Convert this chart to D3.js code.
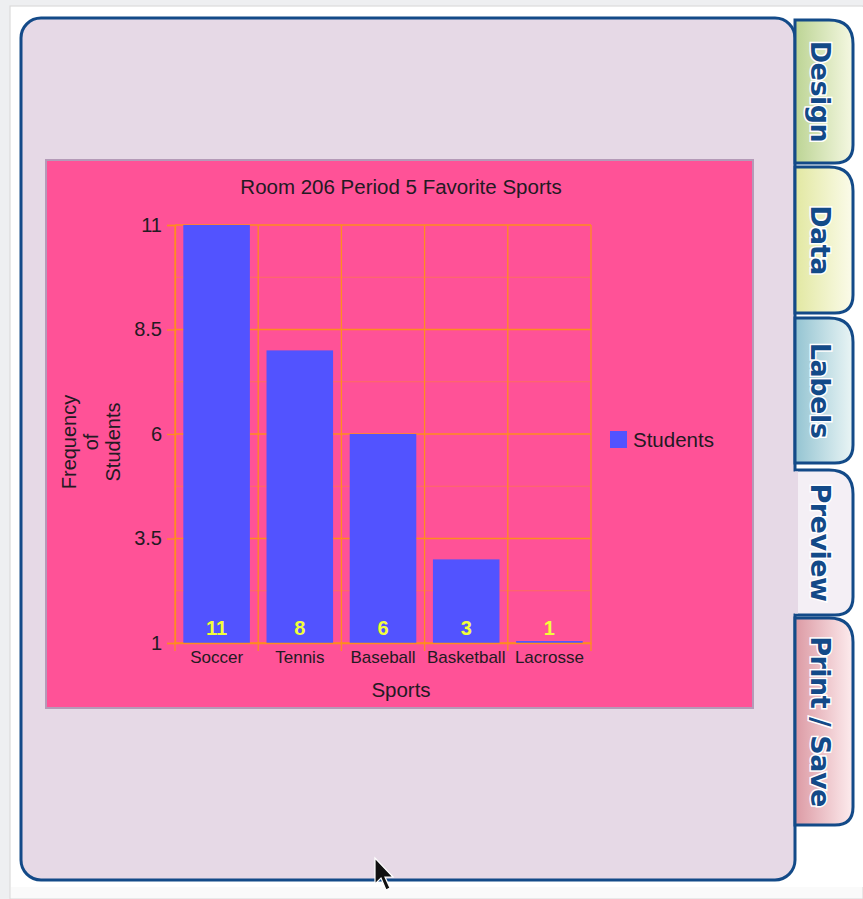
<!DOCTYPE html>
<html>
<head>
<meta charset="utf-8">
<script src="https://cdn.jsdelivr.net/npm/d3@7"></script>
<style>
  html, body { margin: 0; padding: 0; background: #eeeff1; }
  svg { display: block; }
</style>
</head>
<body>
<svg id="chart" width="863" height="899"></svg>
<script>
// chart data
const categories = ["Soccer", "Tennis", "Baseball", "Basketball", "Lacrosse"];
const students = [11, 8, 6, 3, 1];
const yTicks = [1, 3.5, 6, 8.5, 11];
const chartTitle = "Room 206 Period 5 Favorite Sports";
const xTitle = "Sports";
const yTitle = ["Frequency", "of", "Students"];
const seriesName = "Students";
const tabNames = ["Design", "Data", "Labels", "Preview", "Print / Save"];

// tab look (layout only)
const tabTops = [20, 167, 318, 470, 618];
const tabBottoms = [163, 313, 463, 615, 825];
const tabColors = [["#bcd494", "#f5f8e2"], ["#e2e8a2", "#fbfbea"], ["#94c4d2", "#eaf5f5"], ["#e9dfeb", "#fbf8fb"], ["#dc9aa4", "#fdecee"]];
const activeTab = 3;

const blue = "#134a88";
const orange = "#ff8c1e";

let svg = d3.select("#chart");
let defs = svg.append("defs");

// page
svg.append("rect").attr("x", 10).attr("y", 6).attr("width", 853).attr("height", 893)
    .attr("fill", "#fafafa").attr("stroke", "#d8d8d8");
svg.append("rect").attr("x", 11).attr("y", 7).attr("width", 852).attr("height", 880).attr("fill", "#fff");

// main panel
svg.append("rect").attr("x", 21).attr("y", 18).attr("width", 774).attr("height", 862)
    .attr("rx", 20).attr("fill", "#e6d9e6").attr("stroke", blue).attr("stroke-width", 3);

// tabs
const tabPath = (top, bot, open) => {
    let l = 795, r = 853, rt = 24, rb = 18;
    let p = d3.path();
    p.moveTo(l, top);
    p.lineTo(r - rt, top);
    p.quadraticCurveTo(r, top, r, top + rt);
    p.lineTo(r, bot - rb);
    p.quadraticCurveTo(r, bot, r - rb, bot);
    p.lineTo(l, bot);
    if (!open) p.closePath();
    return p.toString();
};

tabNames.forEach((name, i) => {
    let grad = defs.append("linearGradient").attr("id", "tab" + i)
        .attr("x1", "0%").attr("x2", "100%").attr("y1", "0%").attr("y2", "0%");
    grad.append("stop").attr("offset", "0%").attr("stop-color", tabColors[i][0]);
    grad.append("stop").attr("offset", "100%").attr("stop-color", tabColors[i][1]);

    let active = i === activeTab;
    svg.append("path")
        .attr("d", tabPath(tabTops[i], tabBottoms[i], active))
        .attr("fill", active ? "#f4eff5" : `url(#tab${i})`)
        .attr("stroke", blue).attr("stroke-width", 3);
    if (active) {
        // the active tab joins the panel: hide the panel border there
        svg.append("rect").attr("x", 789).attr("y", tabTops[i] + 1.5)
            .attr("width", 9).attr("height", tabBottoms[i] - tabTops[i] - 3).attr("fill", "#e6d9e6");
    }

    let cy = (tabTops[i] + tabBottoms[i]) / 2;
    svg.append("text")
        .attr("transform", `translate(820,${cy}) rotate(90)`)
        .attr("text-anchor", "middle")
        .attr("dominant-baseline", "central")
        .attr("font-family", "DejaVu Sans, sans-serif")
        .attr("font-weight", "bold")
        .attr("font-size", 27)
        .attr("letter-spacing", -0.5)
        .attr("fill", blue)
        .attr("stroke", "#fff").attr("stroke-width", 3).attr("paint-order", "stroke")
        .text(name);
});

// chart box
let box = {x: 46, y: 160, w: 707, h: 548};
svg.append("rect").attr("x", box.x).attr("y", box.y).attr("width", box.w).attr("height", box.h)
    .attr("fill", "#ff5297").attr("stroke", "#b59ab8").attr("stroke-width", 2);

let plot = {left: 175, right: 591, top: 225, bottom: 643};

let x = d3.scaleBand().domain(categories).range([plot.left, plot.right])
    .paddingInner(0.2).paddingOuter(0.1);
let y = d3.scaleLinear().domain([d3.min(yTicks), d3.max(yTicks)]).range([plot.bottom, plot.top]);

let g = svg.append("g").attr("font-family", "Liberation Sans, Arial, sans-serif");

// minor gridlines (half way between ticks)
let minor = d3.pairs(yTicks).map(d => (d[0] + d[1]) / 2);
g.append("g").selectAll("line").data(minor).join("line")
    .attr("x1", plot.left).attr("x2", plot.right)
    .attr("y1", d => y(d)).attr("y2", d => y(d))
    .attr("stroke", orange).attr("stroke-opacity", 0.45).attr("stroke-width", 1);

// major gridlines
g.append("g").selectAll("line").data(yTicks).join("line")
    .attr("x1", plot.left).attr("x2", plot.right)
    .attr("y1", d => y(d)).attr("y2", d => y(d))
    .attr("stroke", orange).attr("stroke-width", 1.3);

// vertical gridlines at category boundaries
let bounds = d3.range(categories.length + 1).map(i => plot.left + i * x.step());
g.append("g").selectAll("line").data(bounds).join("line")
    .attr("x1", d => d).attr("x2", d => d)
    .attr("y1", plot.top).attr("y2", plot.bottom + 8)
    .attr("stroke", orange).attr("stroke-width", 1.3);

// bars
g.append("g").selectAll("rect").data(students).join("rect")
    .attr("x", (d, i) => x(categories[i]))
    .attr("width", x.bandwidth())
    .attr("y", d => Math.min(y(d), plot.bottom - 2))
    .attr("height", d => Math.max(plot.bottom - y(d), 2))
    .attr("fill", "#5253ff");

// value labels
g.append("g").selectAll("text").data(students).join("text")
    .attr("x", (d, i) => x(categories[i]) + x.bandwidth() / 2)
    .attr("y", plot.bottom - 8)
    .attr("text-anchor", "middle")
    .attr("font-size", 20).attr("font-weight", "bold")
    .attr("fill", "#f2ff3a")
    .text(d => d);

// y axis
let yAxis = g.append("g").attr("transform", `translate(${plot.left},0)`)
    .call(d3.axisLeft(y).tickValues(yTicks).tickSize(8).tickPadding(5).tickFormat(d3.format("")));
yAxis.select(".domain").attr("stroke", orange).attr("stroke-width", 1.3);
yAxis.selectAll(".tick line").attr("stroke", orange).attr("stroke-width", 1.3);
yAxis.selectAll(".tick text").attr("font-size", 20).attr("fill", "#231a23")
    .attr("font-family", "Liberation Sans, Arial, sans-serif");

// x axis
let xAxis = g.append("g").attr("transform", `translate(0,${plot.bottom})`)
    .call(d3.axisBottom(x).tickSize(0).tickPadding(8));
xAxis.select(".domain").attr("stroke", orange).attr("stroke-width", 1.3);
xAxis.selectAll(".tick text").attr("font-size", 17).attr("fill", "#231a23")
    .attr("font-family", "Liberation Sans, Arial, sans-serif");

// titles
g.append("text").attr("x", (plot.left + plot.right) / 2 + 18).attr("y", 194)
    .attr("text-anchor", "middle").attr("font-size", 20.5).attr("fill", "#231a23")
    .text(chartTitle);

g.append("text").attr("x", (plot.left + plot.right) / 2 + 18).attr("y", 697)
    .attr("text-anchor", "middle").attr("font-size", 20.5).attr("fill", "#231a23")
    .text(xTitle);

let yt = g.append("text").attr("transform", "translate(91,442) rotate(-90)")
    .attr("text-anchor", "middle").attr("font-size", 20).attr("fill", "#231a23");
yt.selectAll("tspan").data(yTitle).join("tspan")
    .attr("x", 0)
    .attr("y", (d, i) => (i - (yTitle.length - 1) / 2) * 22)
    .attr("dy", "0.35em")
    .text(d => d);

// legend
let legend = g.append("g").attr("transform", "translate(610,431)");
legend.append("rect").attr("width", 17).attr("height", 17).attr("fill", "#5253ff");
legend.append("text").attr("x", 23).attr("y", 16).attr("font-size", 20.5).attr("fill", "#231a23")
    .text(seriesName);

// mouse pointer from the screenshot
svg.append("path")
    .attr("d", "M375,858 L375,884 L381,878 L386,890 L390,888 L385,877 L393,877 Z")
    .attr("fill", "#111").attr("stroke", "#fff").attr("stroke-width", 1.2);
</script>
</body>
</html>
